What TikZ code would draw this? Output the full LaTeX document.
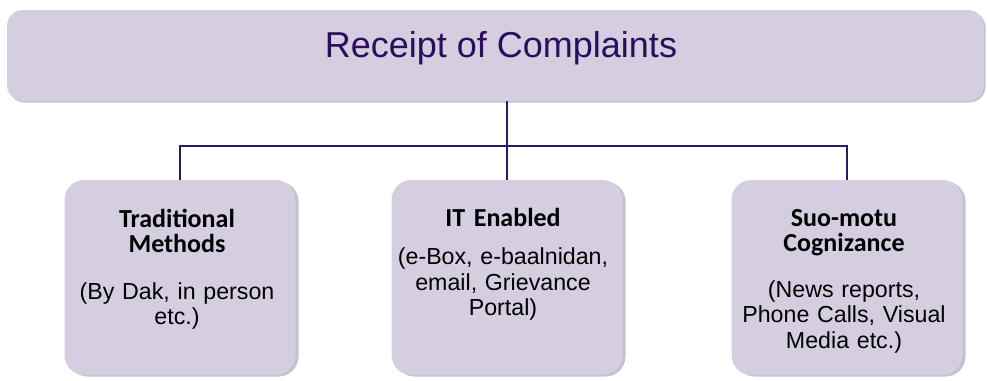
\documentclass[tikz,border=0pt]{standalone}
\usepackage{fontspec}
\setmainfont{Liberation Sans}
\newfontfamily\headfont{Carlito}
\usetikzlibrary{shadows}
\definecolor{boxfill}{RGB}{212,206,224}
\definecolor{shadowc}{RGB}{196,194,202}
\definecolor{linec}{RGB}{46,24,102}
\definecolor{titlec}{RGB}{42,14,92}
\begin{document}
\begin{tikzpicture}[x=1pt,y=-1pt,
  panel/.style={fill=boxfill, draw=none, inner sep=0pt, outer sep=0pt,
    rounded corners=20pt, minimum width=231pt, minimum height=195pt,
    drop shadow={shadow xshift=3pt, shadow yshift=-1.5pt, fill=shadowc, opacity=1}},
  banner/.style={fill=boxfill, draw=none, inner sep=0pt, outer sep=0pt,
    rounded corners=16pt, minimum width=977pt, minimum height=91pt,
    drop shadow={shadow xshift=1.5pt, shadow yshift=-1.5pt, fill=shadowc, opacity=1}},
  conn/.style={draw=linec, line width=2.6pt},
  head/.style={font=\headfont\bfseries\fontsize{26}{25.2}\selectfont, text width=230pt,
    align=center, anchor=base, inner sep=0pt},
  body/.style={font=\fontsize{23.2}{25.6}\selectfont, text width=230pt,
    align=center, anchor=base, inner sep=0pt},
  title/.style={font=\fontsize{36}{40}\selectfont, text=titlec, anchor=base, inner sep=0pt}]
\useasboundingbox (0,0) rectangle (987,380);

\node[banner] (top) at (495.5,55.5) {};
\node[title] (ttl) at (501,57.3) {Receipt of Complaints};

\node[panel] (b1) at (180,277.5) {};
\node[panel] (b2) at (507,277.5) {};
\node[panel] (b3) at (847,277.5) {};

\coordinate (hub) at (507,146);
\draw[conn] (top.south -| hub) -- (hub);
\draw[conn] (b1.north) |- (hub) -| (b3.north);
\draw[conn] (hub) -- (b2.north);

\node[head] (h1) at (177,227) {Traditional\\Methods};
\node[body] (t1) at (177,299) {(By Dak, in person\\etc.)};

\node[head] (h2) at (503,226.7) {IT Enabled};
\node[body] (t2) at (503,264.5) {(e-Box, e-baalnidan,\\email, Grievance\\Portal)};

\node[head] (h3) at (844,226) {Suo-motu\\Cognizance};
\node[body] (t3) at (844,297) {(News reports,\\Phone Calls, Visual\\Media etc.)};
\end{tikzpicture}
\end{document}
